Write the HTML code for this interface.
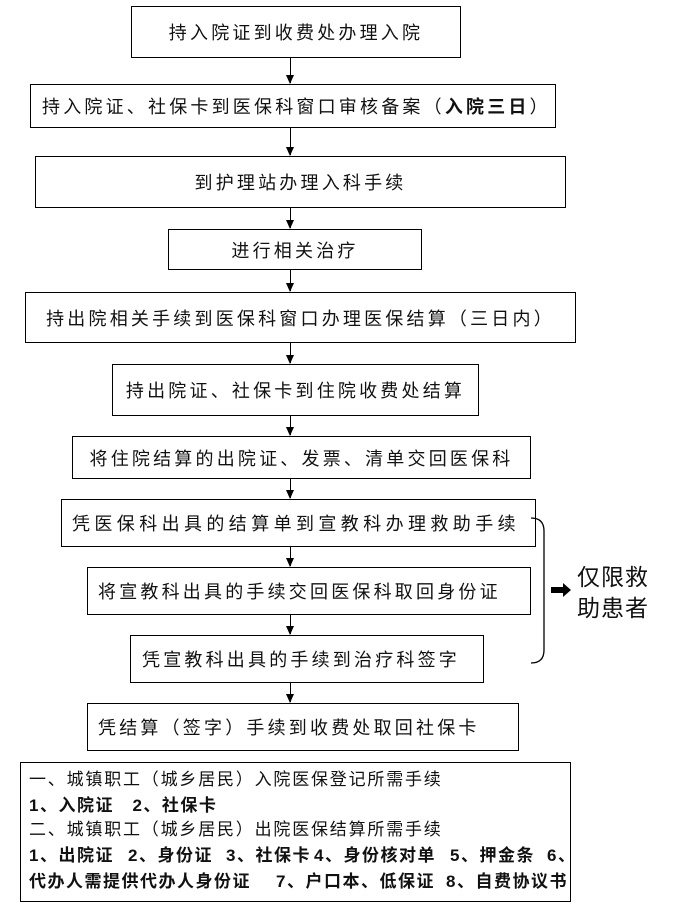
<!DOCTYPE html>
<html><head><meta charset="utf-8"><style>
body{margin:0;background:#fff;width:695px;height:921px;position:relative;overflow:hidden;font-family:"Liberation Sans","Noto Sans CJK SC",sans-serif;color:#111}
.b{position:absolute;border:1.5px solid #000;box-sizing:border-box;display:flex;align-items:center;justify-content:center;font-size:18px;letter-spacing:3.2px;white-space:nowrap}
.l{justify-content:flex-start}
.a{position:absolute;left:290px;width:1.3px;background:#000}
.a:after{content:"";position:absolute;left:-4px;bottom:-1px;border-left:4.6px solid transparent;border-right:4.6px solid transparent;border-top:9px solid #000}
.bot{position:absolute;left:20px;top:762px;width:551px;height:140px;border:1.5px solid #000;box-sizing:border-box}
.t{position:absolute;white-space:nowrap;font-size:17px;letter-spacing:1.8px;line-height:20px}
.bd{font-weight:bold;letter-spacing:1.5px}
</style></head><body>
<div class="b" style="left:131px;top:6px;width:330px;height:52px">持入院证到收费处办理入院</div>
<div class="a" style="top:58px;height:25px"></div>
<div class="b l" style="left:30px;top:84px;width:526px;height:44px;padding-left:11px">持入院证、社保卡到医保科窗口审核备案（<b>入院三日</b>）</div>
<div class="a" style="top:128px;height:27px"></div>
<div class="b" style="left:35px;top:156px;width:531px;height:52px">到护理站办理入科手续</div>
<div class="a" style="top:208px;height:20px"></div>
<div class="b" style="left:168px;top:229px;width:254px;height:41px">进行相关治疗</div>
<div class="a" style="top:270px;height:21px"></div>
<div class="b" style="left:25px;top:292px;width:551px;height:51px">持出院相关手续到医保科窗口办理医保结算（三日内）</div>
<div class="a" style="top:343px;height:20px"></div>
<div class="b" style="left:112px;top:364px;width:367px;height:52px">持出院证、社保卡到住院收费处结算</div>
<div class="a" style="top:416px;height:19px"></div>
<div class="b" style="left:72px;top:436px;width:459px;height:43px">将住院结算的出院证、发票、清单交回医保科</div>
<div class="a" style="top:479px;height:19px"></div>
<div class="b l" style="left:61px;top:499px;width:475px;height:48px;padding-left:10px;letter-spacing:4.4px">凭医保科出具的结算单到宣教科办理救助手续</div>
<div class="a" style="top:547px;height:19px"></div>
<div class="b l" style="left:87px;top:567px;width:444px;height:48px;padding-left:10px">将宣教科出具的手续交回医保科取回身份证</div>
<div class="a" style="top:615px;height:19px"></div>
<div class="b l" style="left:130px;top:635px;width:354px;height:48px;padding-left:11px">凭宣教科出具的手续到治疗科签字</div>
<div class="a" style="top:683px;height:19px"></div>
<div class="b l" style="left:87px;top:703px;width:432px;height:48px;padding-left:10px">凭结算（签字）手续到收费处取回社保卡</div>
<svg style="position:absolute;left:0;top:0" width="695" height="921">
<path d="M531 518 Q544 518 544 531 L544 650 Q544 663 531 663" fill="none" stroke="#000" stroke-width="1.3"/>
<path d="M551 587 L563 587 L563 583 L571 590 L563 597 L563 593 L551 593 Z" fill="#000"/>
</svg>
<div style="position:absolute;left:577px;top:562px;font-size:23px;line-height:31px;letter-spacing:1px">仅限救<br>助患者</div>
<div class="bot"></div>
<div class="t" style="left:29px;top:770px">一、城镇职工（城乡居民）入院医保登记所需手续</div>
<div class="t bd" style="left:29px;top:796px">1、入院证　2、社保卡</div>
<div class="t" style="left:29px;top:820px">二、城镇职工（城乡居民）出院医保结算所需手续</div>
<div class="t bd" style="left:29px;top:846px">1、出院证</div>
<div class="t bd" style="left:128px;top:846px">2、身份证</div>
<div class="t bd" style="left:226px;top:846px">3、社保卡</div>
<div class="t bd" style="left:314px;top:846px">4、身份核对单</div>
<div class="t bd" style="left:450px;top:846px">5、押金条</div>
<div class="t bd" style="left:547px;top:846px">6、</div>
<div class="t bd" style="left:29px;top:872px">代办人需提供代办人身份证</div>
<div class="t bd" style="left:276px;top:872px">7、户口本、低保证</div>
<div class="t bd" style="left:446px;top:872px">8、自费协议书</div>
</body></html>
